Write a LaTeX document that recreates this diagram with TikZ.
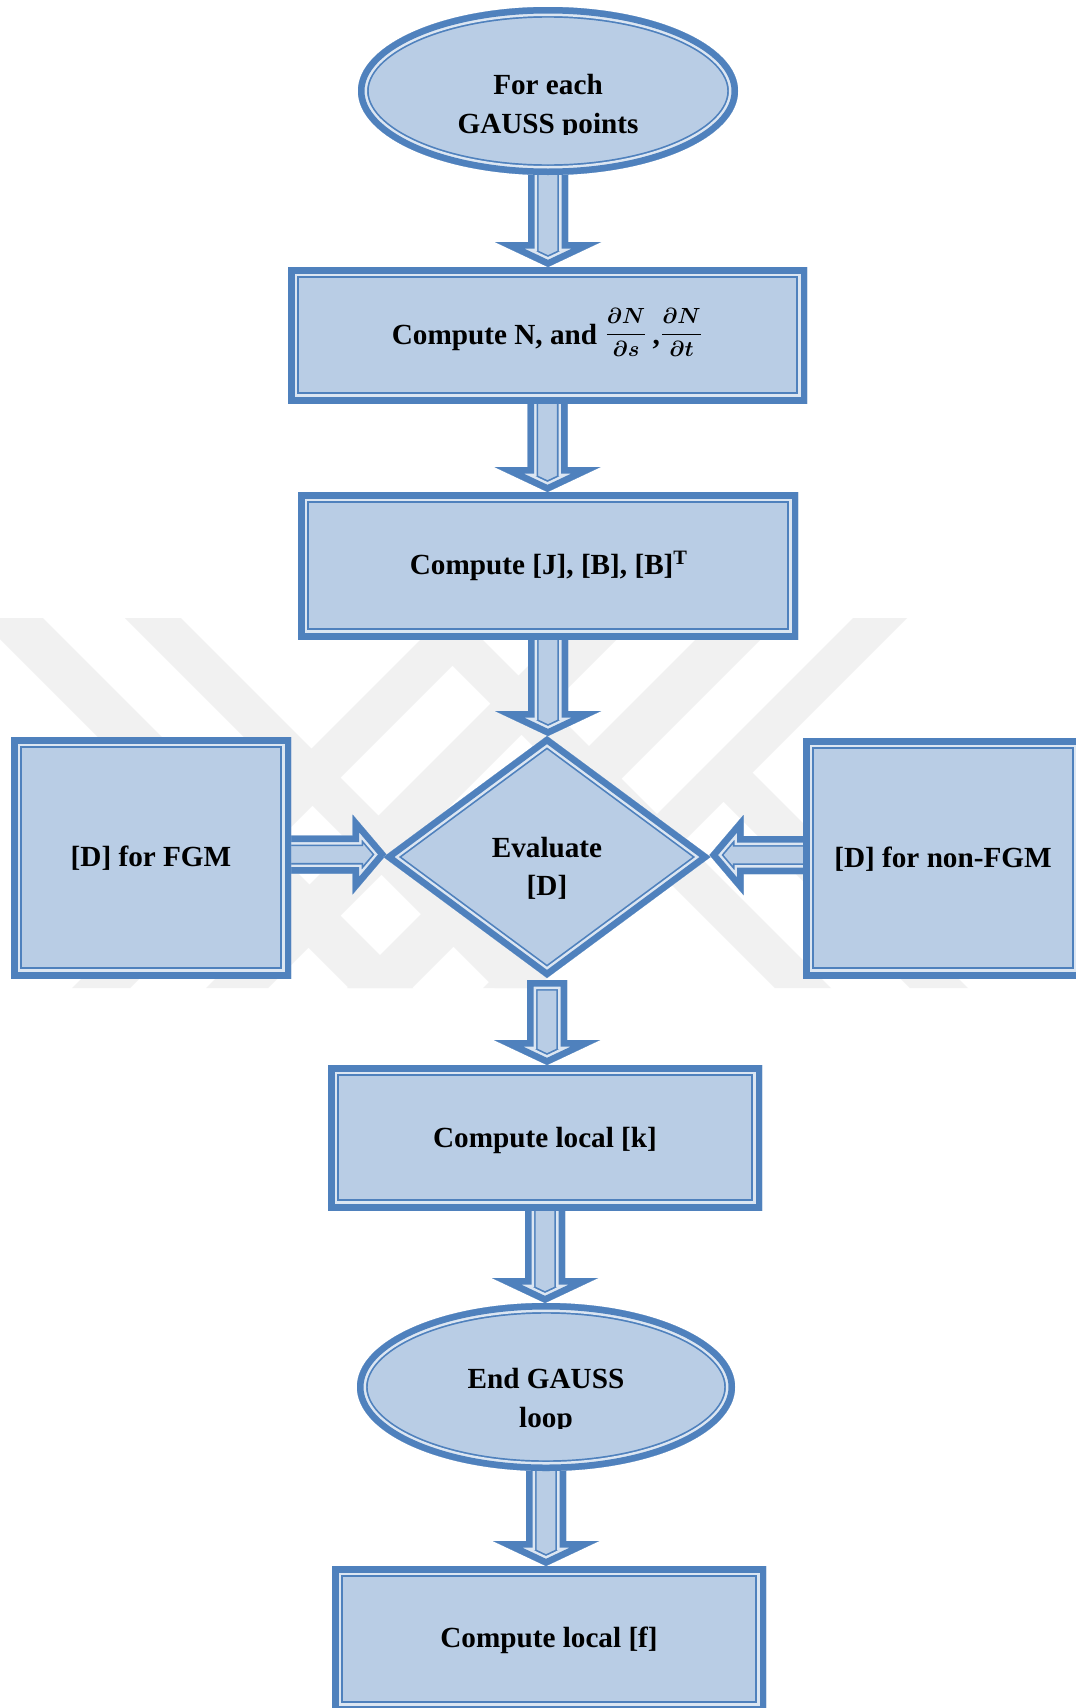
\documentclass[tikz,border=0pt]{standalone}
\usepackage{fontspec}
\setmainfont{Liberation Serif}
\usepackage{amsmath}
\usepackage{bm}
\usetikzlibrary{shapes.geometric,calc}
\definecolor{bblue}{HTML}{4F81BD}
\definecolor{bfill}{HTML}{B9CDE5}
\definecolor{blite}{HTML}{DCE6F2}
\definecolor{wmgray}{HTML}{F1F1F1}
\pgfdeclarelayer{wm}
\pgfdeclarelayer{arr}
\pgfsetlayers{wm,arr,main}
\newcommand\tbstrokes[1]{%
  \draw[bblue,line width=10.7pt,line join=miter] #1;
  \draw[blite,line width=9pt,line join=miter] #1;
  \draw[bblue,line width=6.5pt,line join=miter] #1;}
\newcommand\tbpoly[1]{%
  \fill[bfill] #1;
  \begin{scope}\clip #1;\tbstrokes{#1}\end{scope}}
\newcommand\tbdown[3]{%
  \tbpoly{($(#1.south)+(-20,#3)$) -- ($(#1.south |- #2.north)+(-20,-25)$) -- ($(#1.south |- #2.north)+(-53,-25)$) -- (#1.south |- #2.north) -- ($(#1.south |- #2.north)+(53,-25)$) -- ($(#1.south |- #2.north)+(20,-25)$) -- ($(#1.south)+(20,#3)$) -- cycle}}
\newcommand\tbfrac[2]{\raisebox{2pt}{\fontsize{11pt}{13pt}\selectfont$\bm{\dfrac{#1}{#2}}$}}
\tikzset{
  rectbox/.style={rectangle, fill=bfill, inner sep=0pt, outer sep=0pt,
    path picture={\tbstrokes{(path picture bounding box.south west) rectangle (path picture bounding box.north east)}}},
  ellbox/.style={ellipse, fill=bfill, inner sep=0pt, outer sep=0pt,
    path picture={\tbstrokes{let \p1=($(path picture bounding box.north east)-(path picture bounding box.center)$) in (path picture bounding box.center) ellipse [x radius=\x1, y radius=\y1]}}},
  diabox/.style={diamond, fill=bfill, inner sep=0pt, outer sep=0pt,
    path picture={\tbstrokes{(path picture bounding box.north) -- (path picture bounding box.east) -- (path picture bounding box.south) -- (path picture bounding box.west) -- cycle}}},
  txt/.style={font=\fontsize{14.6pt}{19.5pt}\selectfont\bfseries, inner sep=0pt, text=black},
}
\begin{document}
\begin{tikzpicture}[x=0.5pt,y=-0.5pt]
\useasboundingbox (0,0) rectangle (1076,1708);
% watermark
\begin{pgfonlayer}{wm}
\fill[white] (0,0) rectangle (1076,1708);
\begin{scope}
\clip (0,618) rectangle (1076,988);
\fill[wmgray] (-21,618) -- (43,618) -- (413,988) -- (349,988) -- cycle;
\fill[wmgray] (125,618) -- (181,618) -- (551,988) -- (495,988) -- cycle;
\fill[wmgray] (405,618) -- (461,618) -- (831,988) -- (775,988) -- cycle;
\fill[wmgray] (696.5,774.5) -- (752.5,772.5) -- (968,988) -- (910,988) -- cycle;
\fill[wmgray] (72,988) -- (130,988) -- (500,618) -- (442,618) -- cycle;
\fill[wmgray] (206,988) -- (268,988) -- (638,618) -- (576,618) -- cycle;
\fill[wmgray] (347,988) -- (412,988) -- (782,618) -- (717,618) -- cycle;
\fill[wmgray] (853,618) -- (907,618) -- (537,988) -- (483,988) -- cycle;
\end{scope}
\end{pgfonlayer}
% shapes
\node[ellbox, minimum width=190pt, minimum height=84pt] (e1) at (548,91) {};
\node[rectbox, minimum width=259.5pt, minimum height=68pt] (b2) at (547.5,335) {};
\node[rectbox, minimum width=250pt, minimum height=73.5pt] (b3) at (548,565.5) {};
\node[diabox, minimum width=163.5pt, minimum height=121pt] (dia) at (547,857) {};
\node[rectbox, minimum width=140pt, minimum height=120.5pt] (lb) at (151,857.5) {};
\node[rectbox, minimum width=140pt, minimum height=120pt] (rb) at (943,858) {};
\node[rectbox, minimum width=217pt, minimum height=72.5pt] (b5) at (545,1137.5) {};
\node[ellbox, minimum width=189pt, minimum height=84pt] (e2) at (546,1387) {};
\node[rectbox, minimum width=217pt, minimum height=73pt] (b7) at (549,1639) {};
% arrows
\begin{pgfonlayer}{arr}
\tbdown{e1}{b2}{-12}
\tbdown{b2}{b3}{-12}
\tbdown{b3}{dia}{-12}
\tbdown{dia}{b5}{2}
\tbdown{b5}{e2}{-12}
\tbdown{e2}{b7}{-12}
\coordinate (lt) at ($(dia.west)+(3,-2.5)$);
\tbpoly{($(lb.east |- lt)+(-12,-19)$) -- ($(lt)+(-34,-19)$) -- ($(lt)+(-34,-40)$) -- (lt) -- ($(lt)+(-34,40)$) -- ($(lt)+(-34,19)$) -- ($(lb.east |- lt)+(-12,19)$) -- cycle}
\coordinate (rt) at ($(dia.east)+(-1,-2)$);
\tbpoly{($(rb.west |- rt)+(12,-19)$) -- ($(rt)+(34,-19)$) -- ($(rt)+(34,-40)$) -- (rt) -- ($(rt)+(34,40)$) -- ($(rt)+(34,19)$) -- ($(rb.west |- rt)+(12,19)$) -- cycle}
\end{pgfonlayer}
% texts
\begin{scope}
\clip ($(e1.center)+(-180,-80)$) rectangle ($(e1.center)+(180,43)$);
\node[txt,anchor=base] (t1a) at ($(e1.center)+(0,3)$) {For each};
\node[txt,anchor=base] (t1b) at ($(e1.center)+(0,42)$) {GAUSS points};
\end{scope}
\node[txt,anchor=base] (t2) at ($(b2.center)+(0,9)$) {Compute N, and \tbfrac{\partial N}{\partial s}\,,\tbfrac{\partial N}{\partial t}};
\node[txt,anchor=base] (t3) at ($(b3.center)+(1,9)$) {Compute [J], [B], [B]\textsuperscript{T}};
\node[txt,anchor=base] (td1) at ($(dia.center)+(0,0)$) {Evaluate};
\node[txt,anchor=base] (td2) at ($(dia.center)+(0,38)$) {[D]};
\node[txt,anchor=base] (tl) at ($(lb.center)+(0,8.5)$) {[D] for FGM};
\node[txt,anchor=base] (tr) at ($(rb.center)+(0,9)$) {[D] for non-FGM};
\node[txt,anchor=base] (t5) at ($(b5.center)+(0,9.5)$) {Compute local [k]};
\begin{scope}
\clip ($(e2.center)+(-180,-80)$) rectangle ($(e2.center)+(180,41)$);
\node[txt,anchor=base] (te1) at ($(e2.center)+(0,1)$) {End GAUSS};
\node[txt,anchor=base] (te2) at ($(e2.center)+(0,40)$) {loop};
\end{scope}
\node[txt,anchor=base] (t7) at ($(b7.center)+(0,8)$) {Compute local [f]};
\end{tikzpicture}
\end{document}
